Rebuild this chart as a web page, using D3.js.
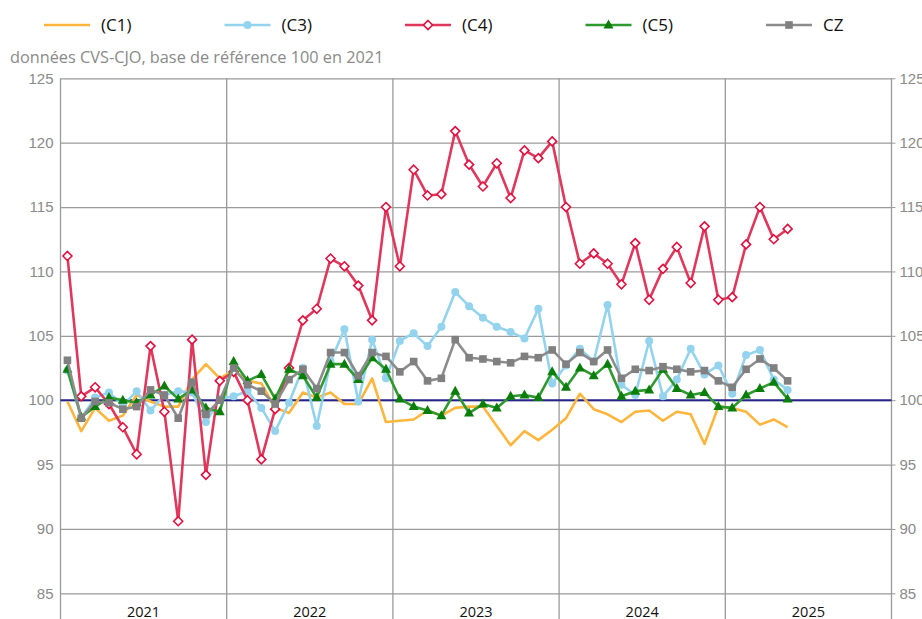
<!DOCTYPE html>
<html>
<head>
<meta charset="utf-8">
<script src="https://cdn.jsdelivr.net/npm/d3@7"></script>
<style>
  body { margin: 0; background: #fff; }
  svg { font-family: "Open Sans", "Noto Sans", sans-serif; }
</style>
</head>
<body>
<svg id="chart" width="922" height="619"></svg>
<script>
// years shown on the x axis, one band of 12 months each
var years = ["2021", "2022", "2023", "2024", "2025"];
var yTicks = [85, 90, 95, 100, 105, 110, 115, 120, 125];

// monthly values, jan 2021 -> may 2025
var c1 = [99.9, 97.6, 99.4, 98.4, 98.8, 100.4, 99.9, 99.5, 99.5, 101.6, 102.8, 101.7,
          102.3, 101.5, 101.3, 99.4, 99.0, 100.6, 100.2, 100.6, 99.7, 99.7, 101.7, 98.3,
          98.4, 98.5, 99.2, 98.8, 99.4, 99.5, 99.5, 98.0, 96.5, 97.6, 96.9, 97.7,
          98.6, 100.5, 99.3, 98.9, 98.3, 99.1, 99.2, 98.4, 99.1, 98.9, 96.6, 99.5,
          99.4, 99.1, 98.1, 98.5, 97.9];
var c3 = [102.3, 98.6, 100.2, 100.6, 99.6, 100.7, 99.2, 100.4, 100.7, 100.6, 98.3, 100.1,
          100.3, 100.7, 99.4, 97.6, 99.8, 102.5, 98.0, 103.0, 105.5, 99.9, 104.7, 101.7,
          104.6, 105.2, 104.2, 105.7, 108.4, 107.3, 106.4, 105.7, 105.3, 104.8, 107.1, 101.3,
          102.7, 104.0, 103.0, 107.4, 101.2, 100.4, 104.6, 100.3, 101.6, 104.0, 102.0, 102.7,
          100.5, 103.5, 103.9, 101.6, 100.8];
var c4 = [111.2, 100.3, 101.0, 99.7, 97.9, 95.8, 104.2, 99.1, 90.6, 104.7, 94.2, 101.5,
          102.2, 100.0, 95.4, 99.3, 102.5, 106.2, 107.1, 111.0, 110.4, 108.9, 106.2, 115.0,
          110.4, 117.9, 115.9, 116.0, 120.9, 118.3, 116.6, 118.4, 115.7, 119.4, 118.8, 120.1,
          115.0, 110.6, 111.4, 110.6, 109.0, 112.2, 107.8, 110.2, 111.9, 109.1, 113.5, 107.8,
          108.0, 112.1, 115.0, 112.5, 113.3];
var c5 = [102.4, 98.7, 99.5, 100.2, 100.0, 99.8, 100.4, 101.1, 100.1, 100.8, 99.4, 99.1,
          103.0, 101.5, 102.0, 100.1, 102.4, 101.9, 100.2, 102.8, 102.8, 101.6, 103.3, 102.4,
          100.1, 99.5, 99.2, 98.8, 100.7, 99.0, 99.7, 99.4, 100.3, 100.4, 100.2, 102.2,
          101.0, 102.5, 101.9, 102.8, 100.3, 100.7, 100.8, 102.4, 100.9, 100.4, 100.6, 99.5,
          99.4, 100.4, 100.9, 101.4, 100.1];
var cz = [103.1, 98.6, 99.9, 99.8, 99.3, 99.5, 100.8, 100.4, 98.6, 101.4, 98.9, 100.0,
          102.5, 101.2, 100.7, 99.7, 101.6, 102.4, 100.9, 103.7, 103.7, 101.9, 103.7, 103.4,
          102.2, 103.0, 101.5, 101.7, 104.7, 103.3, 103.2, 103.0, 102.9, 103.4, 103.3, 103.9,
          102.8, 103.7, 103.0, 103.9, 101.7, 102.4, 102.3, 102.6, 102.4, 102.2, 102.3, 101.5,
          101.0, 102.4, 103.2, 102.5, 101.5];

var series = [
  {name: "(C1)", values: c1, color: "#fdb53c", marker: null},
  {name: "(C3)", values: c3, color: "#93d3ee", marker: "circle"},
  {name: "(C4)", values: c4, color: "#e0385c", marker: "diamond"},
  {name: "(C5)", values: c5, color: "#2e9a2e", marker: "triangle"},
  {name: "CZ", values: cz, color: "#8c8c8c", marker: "square"}
];

var svg = d3.select("#chart");
// plot box (window.top is reserved, so use other names)
var pLeft = 60.5, pRight = 891.5, pTop = 78.3, pBottom = 593.3;

var x = d3.scaleLinear().domain([0, years.length * 12]).range([pLeft, pRight]);
var y = d3.scaleLinear().domain([85, 125]).range([pBottom, pTop]);

// horizontal grid + left labels
svg.append("g")
  .attr("transform", "translate(" + pLeft + ",0)")
  .call(d3.axisLeft(y).tickValues(yTicks).tickSize(-(pRight - pLeft)).tickPadding(7))
  .call(function(g){
    g.select(".domain").remove();
    g.selectAll("line").attr("stroke", "#9a9a9a").attr("stroke-width", 1.3);
    g.selectAll("text").attr("fill", "#8a8a8a").attr("font-size", 15);
  });

// right labels
svg.append("g")
  .attr("transform", "translate(" + pRight + ",0)")
  .call(d3.axisRight(y).tickValues(yTicks).tickSize(4).tickPadding(4))
  .call(function(g){
    g.select(".domain").remove();
    g.selectAll("line").attr("stroke", "#9a9a9a");
    g.selectAll("text").attr("fill", "#8a8a8a").attr("font-size", 15);
  });

// vertical year lines (run down to bottom of page)
var bounds = d3.range(years.length + 1).map(function(d){ return d * 12; });
svg.selectAll(".vline").data(bounds).enter().append("line")
  .attr("x1", function(d){ return x(d); })
  .attr("x2", function(d){ return x(d); })
  .attr("y1", pTop).attr("y2", 619)
  .attr("stroke", "#9a9a9a").attr("stroke-width", 1.3);

// year labels
svg.selectAll(".ylab").data(years).enter().append("text")
  .attr("x", function(d, i){ return x(i * 12 + 6); })
  .attr("y", 617)
  .attr("text-anchor", "middle")
  .attr("font-size", 14.5)
  .attr("fill", "#111")
  .text(function(d){ return d; });

// reference line at 100
svg.append("line")
  .attr("x1", pLeft).attr("x2", pRight)
  .attr("y1", y(100)).attr("y2", y(100))
  .attr("stroke", "#23238a").attr("stroke-width", 2);

function drawMarker(sel, s) {
  if (s.marker === "circle") {
    sel.append("circle").attr("r", 4).attr("fill", s.color);
  } else if (s.marker === "diamond") {
    sel.append("path").attr("d", "M0,-4.5L4.5,0L0,4.5L-4.5,0Z")
      .attr("fill", "#fff").attr("stroke", "#e0103f").attr("stroke-width", 1.6);
  } else if (s.marker === "triangle") {
    sel.append("path").attr("d", "M0,-5.5L5,3.5L-5,3.5Z").attr("fill", "#0a7d0a");
  } else if (s.marker === "square") {
    sel.append("rect").attr("x", -3.8).attr("y", -3.8).attr("width", 7.6).attr("height", 7.6)
      .attr("fill", "#808080");
  }
}

var line = d3.line()
  .x(function(d, i){ return x(i + 0.5); })
  .y(function(d){ return y(d); });

series.forEach(function(s){
  svg.append("path")
    .datum(s.values)
    .attr("d", line)
    .attr("fill", "none")
    .attr("stroke", s.color)
    .attr("stroke-width", 2.6)
    .attr("stroke-linejoin", "round");
  if (s.marker) {
    svg.append("g").selectAll("g").data(s.values).enter().append("g")
      .attr("transform", function(d, i){ return "translate(" + x(i + 0.5) + "," + y(d) + ")"; })
      .each(function(){ drawMarker(d3.select(this), s); });
  }
});

// legend
var legend = svg.append("g").selectAll("g").data(series).enter().append("g")
  .attr("transform", function(d, i){ return "translate(" + (44 + i * 180.5) + ",25)"; });
legend.append("line").attr("x1", 0).attr("x2", 46)
  .attr("stroke", function(d){ return d.color; }).attr("stroke-width", 2.6);
legend.append("g").attr("transform", "translate(23,0)")
  .each(function(d){ drawMarker(d3.select(this), d); });
legend.append("text").attr("x", 57).attr("y", 6)
  .attr("font-size", 17).attr("fill", "#111")
  .text(function(d){ return d.name; });

// subtitle
svg.append("text").attr("x", 10).attr("y", 63)
  .attr("font-size", 16.3).attr("fill", "#8a8a8a")
  .text("données CVS-CJO, base de référence 100 en 2021");
</script>
</body>
</html>
